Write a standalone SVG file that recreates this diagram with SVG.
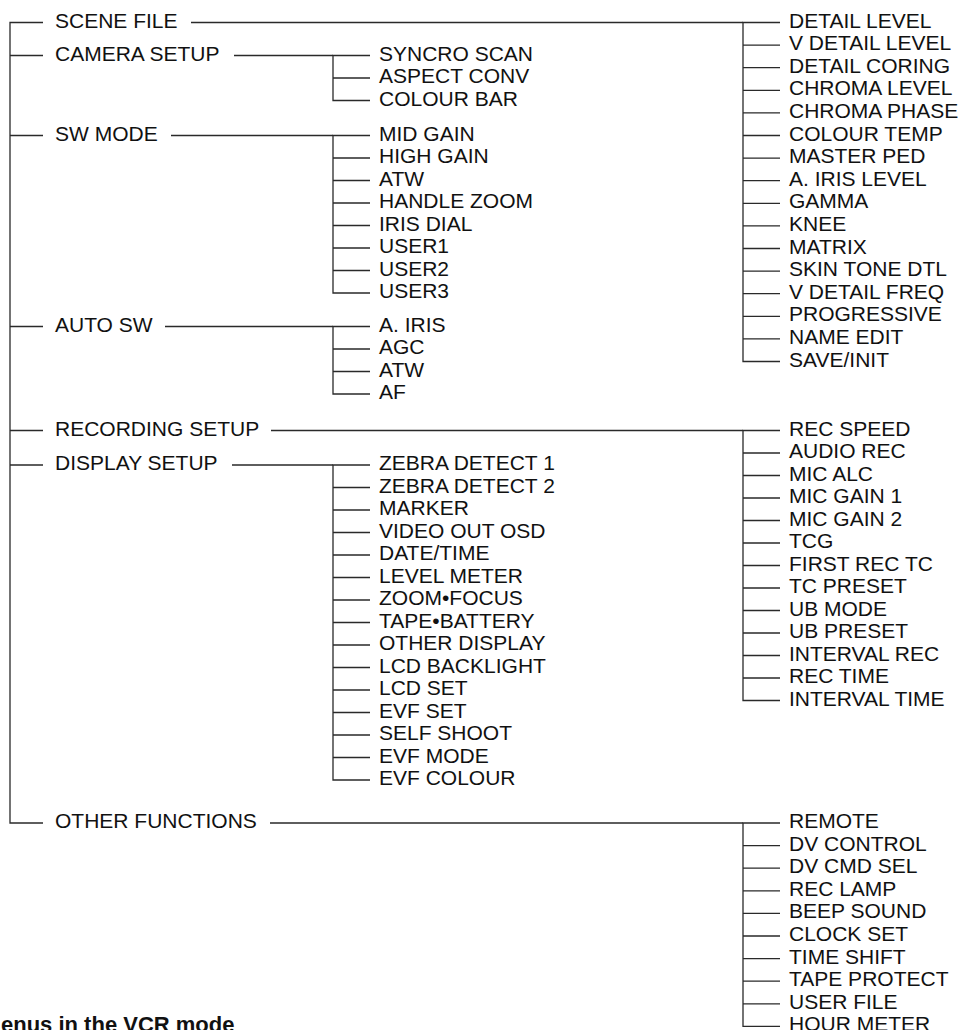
<svg xmlns="http://www.w3.org/2000/svg" width="963" height="1030" viewBox="0 0 963 1030">
<style>
.t{font-family:"Liberation Sans",Arial,Helvetica,sans-serif;font-size:21px;fill:#111}
.b{font-family:"Liberation Sans",Arial,Helvetica,sans-serif;font-size:22px;font-weight:bold;fill:#111}
.c{stroke:#2a2a2a;stroke-width:1.3;fill:none}
</style>
<rect width="963" height="1030" fill="#fff"/>
<g id="connectors" class="c">
<path d="M43,22.5H10V823H43M10,55.5H43M10,135.5H43M10,326.5H43M10,430.5H43M10,465H43"/>
<path d="M191,22.5H743M234,55.5H333M171,135.5H333M165,326.5H333M271,430.5H743M232,465H333M270,823H743"/>
<path d="M370,55.5H333V100.5H370M333,78H370"/>
<path d="M370,135.5H333V293H370M333,158H370M333,180.5H370M333,203H370M333,225.5H370M333,248H370M333,270.5H370"/>
<path d="M370,326.5H333V394H370M333,349H370M333,371.5H370"/>
<path d="M370,465H333V780H370M333,487.5H370M333,510H370M333,532.5H370M333,555H370M333,577.5H370M333,600H370M333,622.5H370M333,645H370M333,667.5H370M333,690H370M333,712.5H370M333,735H370M333,757.5H370"/>
<path d="M780,22.5H743V361.5H780M743,45.1H780M743,67.7H780M743,90.3H780M743,112.9H780M743,135.5H780M743,158.1H780M743,180.7H780M743,203.3H780M743,225.9H780M743,248.5H780M743,271.1H780M743,293.7H780M743,316.3H780M743,338.9H780"/>
<path d="M780,430.5H743V700.5H780M743,453H780M743,475.5H780M743,498H780M743,520.5H780M743,543H780M743,565.5H780M743,588H780M743,610.5H780M743,633H780M743,655.5H780M743,678H780"/>
<path d="M780,823H743V1026.4H780M743,845.6H780M743,868.2H780M743,890.8H780M743,913.4H780M743,936H780M743,958.6H780M743,981.2H780M743,1003.8H780"/>
</g>
<g id="top-level" class="t">
<text id="scene-file" x="55" y="27.5">SCENE FILE</text>
<text id="camera-setup" x="55" y="60.5">CAMERA SETUP</text>
<text id="sw-mode" x="55" y="140.5">SW MODE</text>
<text id="auto-sw" x="55" y="331.5">AUTO SW</text>
<text id="recording-setup" x="55" y="435.5">RECORDING SETUP</text>
<text id="display-setup" x="55" y="470">DISPLAY SETUP</text>
<text id="other-functions" x="55" y="828">OTHER FUNCTIONS</text>
</g>
<g id="camera-setup-items" class="t">
<text x="379" y="60.5">SYNCRO SCAN</text>
<text x="379" y="83">ASPECT CONV</text>
<text x="379" y="105.5">COLOUR BAR</text>
</g>
<g id="sw-mode-items" class="t">
<text x="379" y="140.5">MID GAIN</text>
<text x="379" y="163">HIGH GAIN</text>
<text x="379" y="185.5">ATW</text>
<text x="379" y="208">HANDLE ZOOM</text>
<text x="379" y="230.5">IRIS DIAL</text>
<text x="379" y="253">USER1</text>
<text x="379" y="275.5">USER2</text>
<text x="379" y="298">USER3</text>
</g>
<g id="auto-sw-items" class="t">
<text x="379" y="331.5">A. IRIS</text>
<text x="379" y="354">AGC</text>
<text x="379" y="376.5">ATW</text>
<text x="379" y="399">AF</text>
</g>
<g id="display-setup-items" class="t">
<text x="379" y="470">ZEBRA DETECT 1</text>
<text x="379" y="492.5">ZEBRA DETECT 2</text>
<text x="379" y="515">MARKER</text>
<text x="379" y="537.5">VIDEO OUT OSD</text>
<text x="379" y="560">DATE/TIME</text>
<text x="379" y="582.5">LEVEL METER</text>
<text x="379" y="605">ZOOM•FOCUS</text>
<text x="379" y="627.5">TAPE•BATTERY</text>
<text x="379" y="650">OTHER DISPLAY</text>
<text x="379" y="672.5">LCD BACKLIGHT</text>
<text x="379" y="695">LCD SET</text>
<text x="379" y="717.5">EVF SET</text>
<text x="379" y="740">SELF SHOOT</text>
<text x="379" y="762.5">EVF MODE</text>
<text x="379" y="785">EVF COLOUR</text>
</g>
<g id="scene-file-items" class="t">
<text x="789" y="27.5">DETAIL LEVEL</text>
<text x="789" y="50.1">V DETAIL LEVEL</text>
<text x="789" y="72.7">DETAIL CORING</text>
<text x="789" y="95.3">CHROMA LEVEL</text>
<text x="789" y="117.9">CHROMA PHASE</text>
<text x="789" y="140.5">COLOUR TEMP</text>
<text x="789" y="163.1">MASTER PED</text>
<text x="789" y="185.7">A. IRIS LEVEL</text>
<text x="789" y="208.3">GAMMA</text>
<text x="789" y="230.9">KNEE</text>
<text x="789" y="253.5">MATRIX</text>
<text x="789" y="276.1">SKIN TONE DTL</text>
<text x="789" y="298.7">V DETAIL FREQ</text>
<text x="789" y="321.3">PROGRESSIVE</text>
<text x="789" y="343.9">NAME EDIT</text>
<text x="789" y="366.5">SAVE/INIT</text>
</g>
<g id="recording-setup-items" class="t">
<text x="789" y="435.5">REC SPEED</text>
<text x="789" y="458">AUDIO REC</text>
<text x="789" y="480.5">MIC ALC</text>
<text x="789" y="503">MIC GAIN 1</text>
<text x="789" y="525.5">MIC GAIN 2</text>
<text x="789" y="548">TCG</text>
<text x="789" y="570.5">FIRST REC TC</text>
<text x="789" y="593">TC PRESET</text>
<text x="789" y="615.5">UB MODE</text>
<text x="789" y="638">UB PRESET</text>
<text x="789" y="660.5">INTERVAL REC</text>
<text x="789" y="683">REC TIME</text>
<text x="789" y="705.5">INTERVAL TIME</text>
</g>
<g id="other-functions-items" class="t">
<text x="789" y="828">REMOTE</text>
<text x="789" y="850.6">DV CONTROL</text>
<text x="789" y="873.2">DV CMD SEL</text>
<text x="789" y="895.8">REC LAMP</text>
<text x="789" y="918.4">BEEP SOUND</text>
<text x="789" y="941">CLOCK SET</text>
<text x="789" y="963.6">TIME SHIFT</text>
<text x="789" y="986.2">TAPE PROTECT</text>
<text x="789" y="1008.8">USER FILE</text>
<text x="789" y="1031.4">HOUR METER</text>
</g>
<g id="caption">
<text class="b" x="1" y="1032">enus in the VCR mode</text>
</g>
</svg>
